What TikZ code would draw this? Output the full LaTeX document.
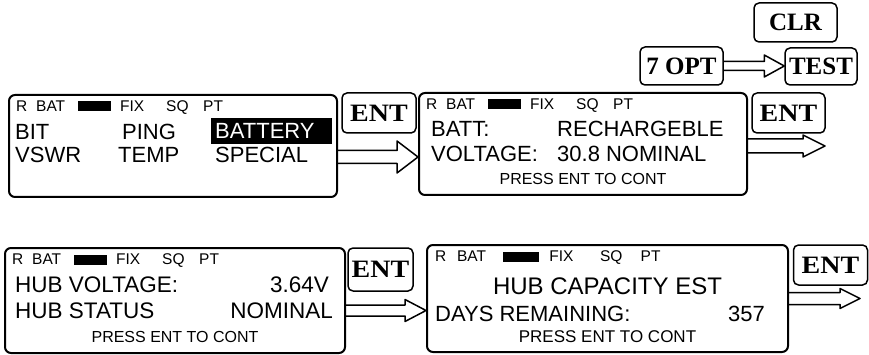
\documentclass[tikz,border=0pt]{standalone}
\usepackage{fontspec}
\usetikzlibrary{calc}
\newfontfamily\lcdfont{Liberation Sans}
\newfontfamily\keyfont{Liberation Serif}
\newfontfamily\keywide{Liberation Serif}[FakeStretch=1.12]

% open block arrow: #1 start, #2 end, #3 shaft half, #4 head half, #5 head length
\newcommand{\hollowarrow}[5]{%
  \draw[fatarrow] let \p1=(#1), \p2=(#2) in
    (\x1,\y1+#3pt) -- (\x2-#5pt,\y1+#3pt) -- (\x2-#5pt,\y1+#4pt) -- (\x2,\y1)
    -- (\x2-#5pt,\y1-#4pt) -- (\x2-#5pt,\y1-#3pt) -- (\x1,\y1-#3pt);}

\begin{document}
\begin{tikzpicture}[x=1pt,y=-1pt,line join=round,
  screen/.style={draw,line width=2pt,rounded corners=6pt,inner sep=0pt},
  key/.style={draw,line width=1.5pt,rounded corners=5pt,inner sep=0pt,
    font={\keyfont\bfseries\fontsize{25}{25}\selectfont}},
  entkey/.style={key,font={\keywide\bfseries\fontsize{25}{25}\selectfont}},
  fatarrow/.style={line width=1.5pt},
  big/.style={font={\lcdfont\fontsize{22}{22}\selectfont},anchor=base west,inner sep=0pt},
  stat/.style={font={\lcdfont\fontsize{15.5}{15.5}\selectfont},anchor=base west,inner sep=0pt},
  press/.style={font={\lcdfont\fontsize{16}{16}\selectfont},anchor=base,inner sep=0pt}]
  \useasboundingbox (0,0) rectangle (869,355);
  \fill[white] (0,0) rectangle (869,355);

  % ===== display screens =====
  \node[screen,minimum width=328pt,minimum height=102pt] (scrn1) at (173,146) {};
  \node[screen,minimum width=328pt,minimum height=102pt] (scrn2) at (583,144) {};
  \node[screen,minimum width=340pt,minimum height=105pt] (scrn3) at (175,300.5) {};
  \node[screen,minimum width=361pt,minimum height=107pt] (scrn4) at (607.5,298.5) {};

  % ===== status bar on every screen =====
  \foreach \b/\s in {scrn1/1,scrn2/1,scrn3/1,scrn4/1.1}{
    \begin{scope}[shift={(\b.north west)},xscale=\s]
      \node[stat] (\b-r) at (8,17.5) {R};
      \node[stat] (\b-bat) at (28,17.5) {BAT};
      \fill (70,7.5) rectangle (103,17.5);
      \node[stat] (\b-fix) at (112,17.5) {FIX};
      \node[stat] (\b-sq) at (158,17.5) {SQ};
      \node[stat] (\b-pt) at (195,17.5) {PT};
    \end{scope}
  }

  % ===== screen 1: menu =====
  \node[big] (bit) at (15,140) {BIT};
  \node[big] (ping) at (122,140) {PING};
  \fill (211,118) rectangle (332,144);   % selection highlight
  \node[big,text=white] (battery) at (215,139) {BATTERY};
  \node[big] (vswr) at (15,163) {VSWR};
  \node[big] (temp) at (118,163) {TEMP};
  \node[big] (special) at (215,163) {SPECIAL};

  % ===== screen 2: battery =====
  \node[big] (batt) at (431,137) {BATT:};
  \node[big] (rechg) at (557,137) {RECHARGEBLE};
  \node[big] (volt) at (431,162) {VOLTAGE:};
  \node[big] (voltval) at (557,162) {30.8 NOMINAL};
  \node[press] (press2) at (scrn2.center |- 0,185) {PRESS ENT TO CONT};

  % ===== screen 3: hub voltage =====
  \node[big,font={\lcdfont\fontsize{22.5}{22.5}\selectfont}] (hubv) at (15,292) {HUB VOLTAGE:};
  \node[big,font={\lcdfont\fontsize{22.5}{22.5}\selectfont},anchor=base east] (hubvval) at (329,292) {3.64V};
  \node[big,font={\lcdfont\fontsize{22.5}{22.5}\selectfont}] (hubs) at (15,318) {HUB STATUS};
  \node[big,font={\lcdfont\fontsize{22.5}{22.5}\selectfont},anchor=base east] (hubsval) at (333,318) {NOMINAL};
  \node[press] (press3) at (scrn3.center |- 0,342) {PRESS ENT TO CONT};

  % ===== screen 4: hub capacity =====
  \node[big,font={\lcdfont\fontsize{24}{24}\selectfont},anchor=base] (hubcap) at (scrn4.center |- 0,294) {HUB CAPACITY EST};
  \node[big] (days) at (435,321) {DAYS REMAINING:};
  \node[big] (daysval) at (728,321) {357};
  \node[press,font={\lcdfont\fontsize{17}{17}\selectfont}] (press4) at (scrn4.center |- 0,342) {PRESS ENT TO CONT};

  % ===== keys =====
  \node[entkey,minimum width=74pt,minimum height=40pt] (ent1) at (379,113) {ENT};
  \node[entkey,minimum width=73pt,minimum height=40pt] (ent2) at (788.5,113) {ENT};
  \node[entkey,minimum width=65pt,minimum height=43pt] (ent3) at (380.5,269.5) {ENT};
  \node[entkey,minimum width=74pt,minimum height=40pt] (ent4) at (830.5,265) {ENT};
  \node[key,minimum width=83pt,minimum height=39pt] (clr) at (795.5,22.5) {CLR};
  \node[key,minimum width=83pt,minimum height=38pt] (opt) at (681.5,66) {7 OPT};
  \node[key,minimum width=72pt,minimum height=37pt] (test) at (821,66.5) {TEST};

  % ===== hollow arrows =====
  \coordinate (tip2) at (825,146);
  \coordinate (tip4) at (860,298.5);
  \hollowarrow{$(scrn1.east)+(0,11)$}{scrn2.west}{6.5}{16}{21}
  \hollowarrow{$(scrn2.east)+(0,2)$}{tip2}{7}{11}{22}
  \hollowarrow{$(scrn3.east)+(0,10)$}{scrn4.west}{5.5}{11}{21}
  \hollowarrow{scrn4.east}{tip4}{6}{10}{20}
  \hollowarrow{opt.east}{test.west}{4.5}{11}{20}
\end{tikzpicture}
\end{document}
